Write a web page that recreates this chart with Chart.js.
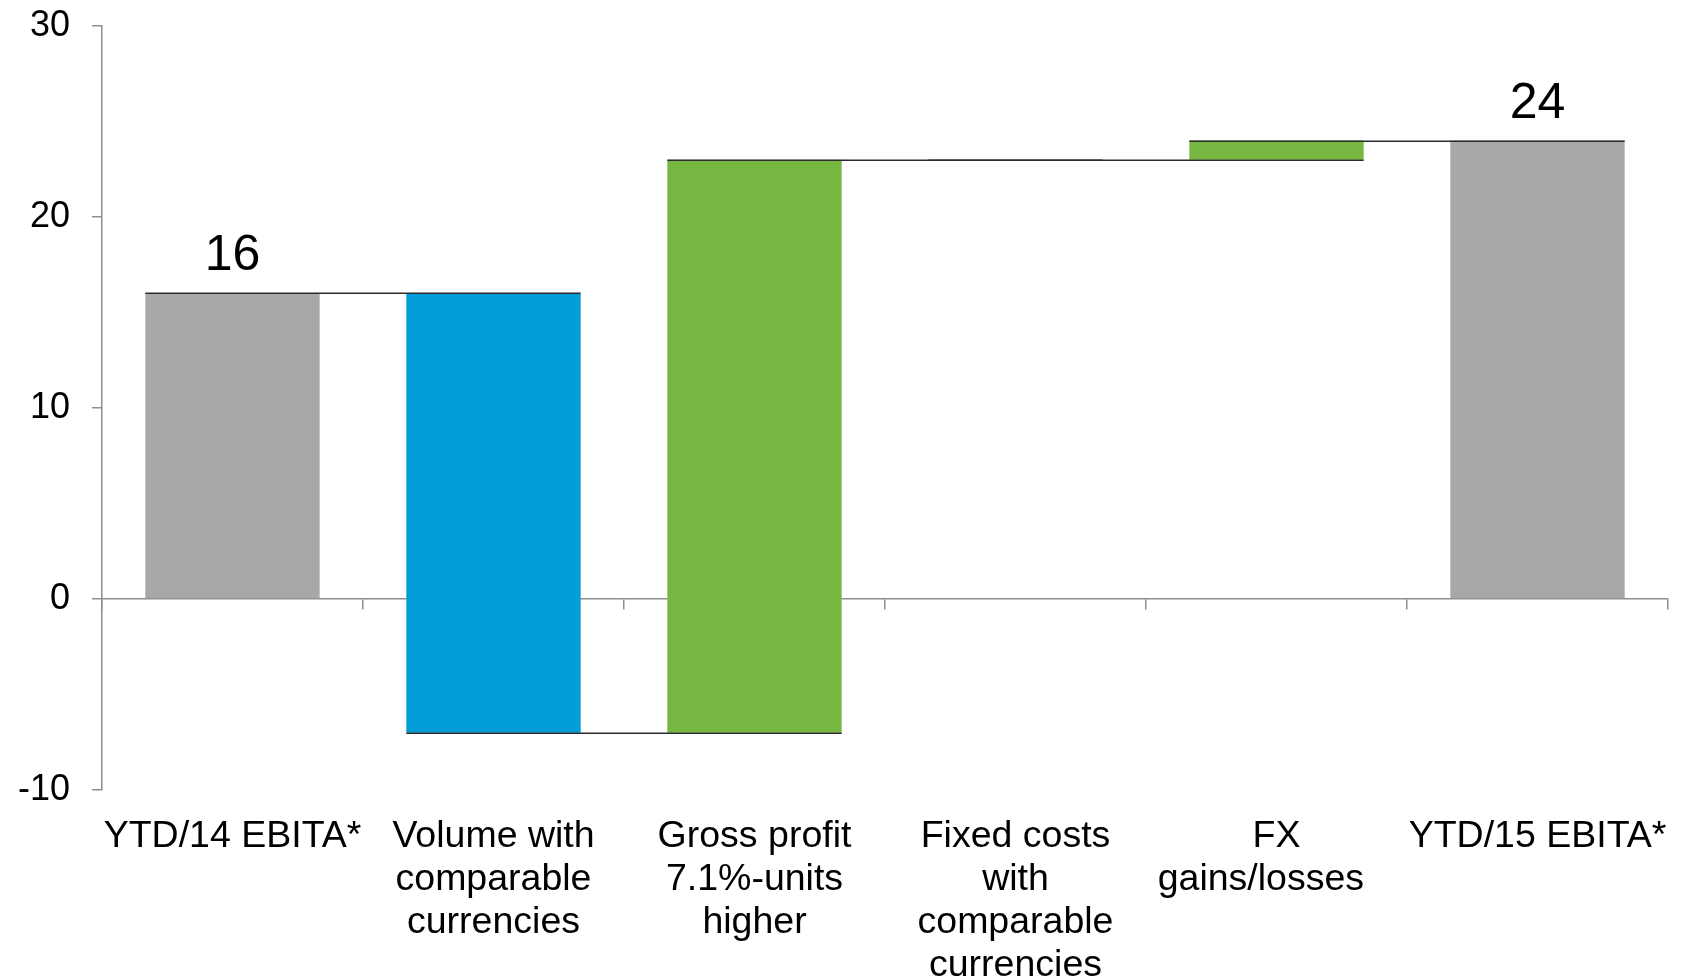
<!DOCTYPE html>
<html>
<head>
<meta charset="utf-8">
<title>EBITA bridge YTD/14 to YTD/15</title>
<script src="https://cdn.jsdelivr.net/npm/chart.js@4/dist/chart.umd.min.js"></script>
<style>
  html, body { margin: 0; padding: 0; background: #ffffff; }
  #wrap { width: 1681px; height: 979px; }
</style>
</head>
<body>
<div id="wrap"><canvas id="bridge" width="1681" height="979"></canvas></div>
<script>
// Bridge categories (multi-line tick labels)
const categories = [
  ["YTD/14 EBITA*"],
  ["Volume with", "comparable", "currencies"],
  ["Gross profit", "7.1%-units", "higher"],
  ["Fixed costs", "with", "comparable", "currencies"],
  ["FX", "gains/losses   "],
  ["YTD/15 EBITA*"]
];

// Each step: totals are absolute levels, deltas move the running level
const stepValues = [16, -23, 30, 0, 1, 24];
const stepKinds  = ["total", "delta", "delta", "delta", "delta", "total"];
const barColors  = ["#a8a8a8", "#009dd9", "#77b843", "#77b843", "#77b843", "#a8a8a8"];

// Axis ticks
const yTicks = [-10, 0, 10, 20, 30];

// Floating [low, high] ranges built from the steps
let running = 0;
const ranges = [];
const levelsAfter = [];
stepValues.forEach((v, i) => {
  if (stepKinds[i] === "total") {
    ranges.push([0, v]);
    running = v;
  } else {
    ranges.push([running, running + v]);
    running += v;
  }
  levelsAfter.push(running);
});

const FONT = "'Liberation Sans', Arial, sans-serif";

// Keep the plot area fixed: no extra room reserved for overflowing tick labels
function noLabelPadding(scale) {
  scale.paddingLeft = 0;
  scale.paddingRight = 0;
  scale.paddingTop = 0;
  scale.paddingBottom = 0;
}

// Connector lines between consecutive bars and value labels over totals
const bridgePlugin = {
  id: "bridgeDecor",
  afterDatasetsDraw(chart) {
    const ctx = chart.ctx;
    const meta = chart.getDatasetMeta(0);
    const y = chart.scales.y;
    ctx.save();
    ctx.strokeStyle = "#2b2b2b";
    ctx.lineWidth = 1.5;
    for (let i = 0; i < meta.data.length - 1; i++) {
      const a = meta.data[i], b = meta.data[i + 1];
      const py = Math.round(y.getPixelForValue(levelsAfter[i])) + 0.25;
      ctx.beginPath();
      ctx.moveTo(a.x - a.width / 2, py);
      ctx.lineTo(b.x + b.width / 2, py);
      ctx.stroke();
    }
    ctx.fillStyle = "#000000";
    ctx.font = "50px " + FONT;
    ctx.textAlign = "center";
    ctx.textBaseline = "alphabetic";
    meta.data.forEach((bar, i) => {
      if (stepKinds[i] !== "total") return;
      const top = y.getPixelForValue(ranges[i][1]);
      ctx.fillText(String(stepValues[i]), bar.x, top - 23);
    });
    ctx.restore();
  }
};

new Chart(document.getElementById("bridge"), {
  type: "bar",
  data: {
    labels: categories,
    datasets: [{
      data: ranges,
      backgroundColor: barColors,
      borderWidth: 0,
      borderSkipped: false,
      categoryPercentage: 1.0,
      barPercentage: 0.668,
      xAxisID: "x"
    }]
  },
  options: {
    responsive: false,
    devicePixelRatio: 1,
    animation: false,
    layout: { padding: { top: 26, right: 13, left: 0, bottom: 0 } },
    plugins: {
      legend: { display: false },
      tooltip: { enabled: false },
      title: { display: false }
    },
    scales: {
      x: {
        type: "category",
        position: "bottom",
        offset: true,
        grid: { display: false, drawTicks: false },
        border: { display: false },
        ticks: {
          color: "#000000",
          font: { family: FONT, size: 37.5, lineHeight: 1.145 },
          padding: 25,
          maxRotation: 0,
          autoSkip: false
        },
        afterFit(scale) { scale.height = 189; noLabelPadding(scale); }
      },
      x0: {
        type: "category",
        position: { y: 0 },
        labels: categories,
        offset: true,
        grid: {
          offset: true,
          drawOnChartArea: false,
          drawTicks: true,
          tickLength: 10,
          color: "#8e8e8e",
          lineWidth: 1.5
        },
        border: { display: true, color: "#8e8e8e", width: 1.5 },
        ticks: { display: false },
        afterFit(scale) { noLabelPadding(scale); }
      },
      y: {
        min: -10,
        max: 30,
        position: "left",
        afterBuildTicks(scale) { scale.ticks = yTicks.map(v => ({ value: v })); },
        grid: {
          drawOnChartArea: false,
          drawTicks: true,
          tickLength: 10,
          color: "#8e8e8e",
          lineWidth: 1.5
        },
        border: { display: true, color: "#8e8e8e", width: 1.5 },
        ticks: {
          color: "#000000",
          font: { family: FONT, size: 36 },
          padding: 22
        },
        afterFit(scale) { scale.width = 102; noLabelPadding(scale); }
      }
    }
  },
  plugins: [bridgePlugin]
});
</script>
</body>
</html>
